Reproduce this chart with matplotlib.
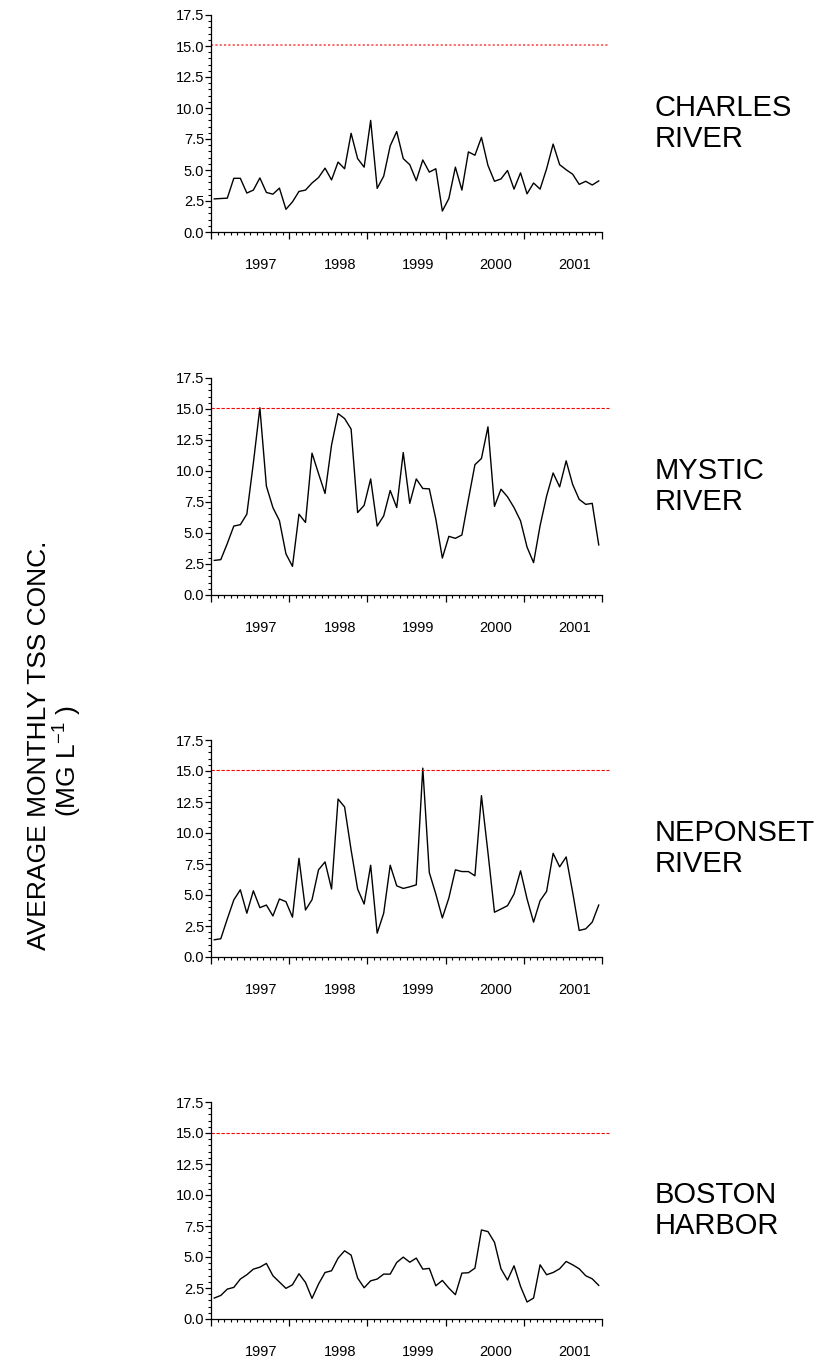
import numpy as np
import matplotlib
matplotlib.use("Agg")
import matplotlib.pyplot as plt
from matplotlib.ticker import MultipleLocator, FormatStrFormatter

plt.rcParams['font.family'] = ['Liberation Sans', 'DejaVu Sans']
plt.rcParams['mathtext.fontset'] = 'custom'
plt.rcParams['mathtext.rm'] = 'Liberation Sans'

# monthly average TSS (mg/L), 60 months per site
charles = [2.67, 2.70, 2.73, 4.33, 4.33, 3.14, 3.38, 4.36, 3.19, 3.05,
           3.54, 1.83, 2.43, 3.27, 3.38, 3.95, 4.39, 5.15, 4.20, 5.64,
           5.10, 7.96, 5.92, 5.23, 9.00, 3.52, 4.50, 6.95, 8.10, 5.92,
           5.43, 4.14, 5.81, 4.83, 5.10, 1.69, 2.70, 5.23, 3.38, 6.46,
           6.19, 7.63, 5.37, 4.09, 4.28, 4.96, 3.46, 4.77, 3.08, 3.95,
           3.46, 5.10, 7.09, 5.43, 5.02, 4.66, 3.84, 4.09, 3.79, 4.12]
mystic = [2.79, 2.85, 4.15, 5.56, 5.67, 6.52, 10.64, 15.10, 8.78, 7.05,
          6.00, 3.32, 2.31, 6.52, 5.85, 11.44, 9.79, 8.19, 12.10, 14.63,
          14.23, 13.38, 6.65, 7.23, 9.36, 5.56, 6.38, 8.43, 7.05, 11.49,
          7.39, 9.36, 8.59, 8.56, 6.12, 2.98, 4.73, 4.57, 4.84, 7.71,
          10.51, 11.01, 13.56, 7.15, 8.53, 7.92, 7.05, 5.98, 3.86, 2.61,
          5.59, 7.98, 9.84, 8.72, 10.82, 8.91, 7.71, 7.31, 7.39, 4.04]
neponset = [1.39, 1.47, 3.07, 4.60, 5.42, 3.53, 5.34, 3.98, 4.19, 3.31,
            4.68, 4.46, 3.21, 7.96, 3.79, 4.62, 7.03, 7.67, 5.48, 12.74,
            12.10, 8.63, 5.48, 4.27, 7.40, 1.92, 3.53, 7.40, 5.74, 5.53,
            5.66, 5.82, 15.23, 6.81, 5.08, 3.15, 4.76, 7.03, 6.89, 6.89,
            6.55, 13.01, 8.42, 3.61, 3.87, 4.14, 5.08, 6.95, 4.68, 2.81,
            4.54, 5.29, 8.36, 7.27, 8.07, 5.21, 2.14, 2.27, 2.81, 4.19]
harbor = [1.69, 1.90, 2.41, 2.55, 3.22, 3.57, 4.02, 4.18, 4.48, 3.49,
          2.98, 2.47, 2.76, 3.65, 2.95, 1.66, 2.82, 3.75, 3.89, 4.91,
          5.50, 5.15, 3.30, 2.52, 3.08, 3.22, 3.62, 3.62, 4.56, 4.99,
          4.58, 4.91, 4.02, 4.08, 2.68, 3.11, 2.49, 1.96, 3.70, 3.73,
          4.10, 7.18, 7.05, 6.19, 4.05, 3.14, 4.29, 2.63, 1.37, 1.69,
          4.37, 3.57, 3.75, 4.05, 4.64, 4.37, 4.05, 3.49, 3.24, 2.71]

sites = ["CHARLES\nRIVER", "MYSTIC\nRIVER", "NEPONSET\nRIVER", "BOSTON\nHARBOR"]
series = [charles, mystic, neponset, harbor]
limit_lines = [15.05, 15.1, 15.05, 15.0]
years = ["1997", "1998", "1999", "2000", "2001"]

fig = plt.figure(figsize=(8.22, 13.62), dpi=100)

left = 211 / 822
width = (602 - 211) / 822
height = 217 / 1362
bottoms_px = [232, 595, 957, 1319]

for k, (name, vals) in enumerate(zip(sites, series)):
    ax = fig.add_axes([left, 1 - bottoms_px[k] / 1362, width, height])
    months = np.arange(len(vals)) + 0.5
    ax.plot(months, vals, color='black', lw=1.0)

    if k == 0:
        ax.plot([0, 61], [limit_lines[k]] * 2, color='#ff5c5c',
                ls=(0, (1.2, 1.2)), lw=1.3, clip_on=False)
    else:
        ax.plot([0, 61], [limit_lines[k]] * 2, color='#ff0000',
                ls=(0, (3, 1.5)), lw=0.8, clip_on=False)

    ax.set_xlim(0, 60)
    ax.set_ylim(0, 17.5)
    for s in ['top', 'right']:
        ax.spines[s].set_visible(False)
    ax.spines['left'].set_linewidth(0.9)
    ax.spines['bottom'].set_linewidth(0.9)

    ax.xaxis.set_major_locator(MultipleLocator(12))
    ax.xaxis.set_minor_locator(MultipleLocator(1))
    ax.set_xticklabels([])
    ax.tick_params(axis='x', which='major', length=5, width=0.9, direction='out')
    ax.tick_params(axis='x', which='minor', length=2.5, width=0.8, direction='out')

    ax.yaxis.set_major_locator(MultipleLocator(2.5))
    ax.yaxis.set_minor_locator(MultipleLocator(0.5))
    ax.yaxis.set_major_formatter(FormatStrFormatter('%.1f'))
    ax.tick_params(axis='y', which='major', length=4, width=0.9, pad=1,
                   labelsize=10.5)
    ax.tick_params(axis='y', which='minor', length=2, width=0.8)

    for j, yr in enumerate(years):
        ax.text(7.75 + 12 * j, -0.15, yr, transform=ax.get_xaxis_transform(),
                ha='center', va='center', fontsize=10.5)

    ax.text(1.135, 0.5, name, transform=ax.transAxes, ha='left',
            va='center', fontsize=21, linespacing=1.1)

# y label, two lines drawn separately
fig.text(39 / 822, 1 - 745 / 1362, "AVERAGE MONTHLY TSS CONC.",
         rotation=90, ha='center', va='center', fontsize=19)
fig.text(67 / 822, 1 - 761 / 1362, "(MG L$^{\\mathregular{-1}}$ )",
         rotation=90, ha='center', va='center', fontsize=19)

fig.savefig("out.png", dpi=100)
